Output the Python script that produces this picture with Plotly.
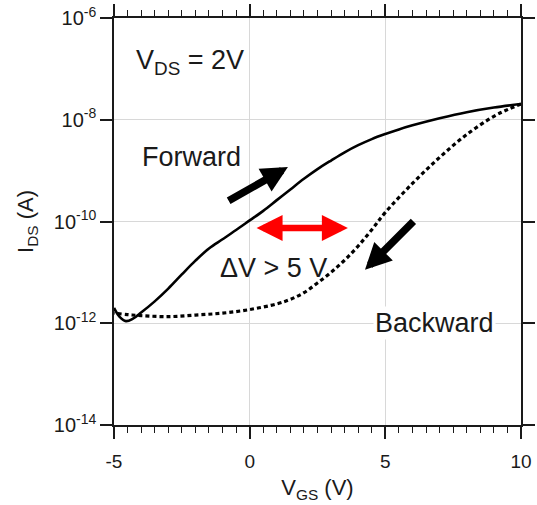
import plotly.graph_objects as go

# Transfer curve of the transistor, forward and backward gate sweeps
vgs_forward = [-5.0, -4.8, -4.56, -4.3, -4.0, -3.5, -3.0, -2.5, -2.0, -1.5, -1.0, -0.5,
               0.0, 0.5, 1.0, 1.5, 2.0, 2.5, 3.0, 3.5, 4.0, 4.5, 5.0, 5.5, 6.0, 7.0,
               8.0, 9.0, 10.0]
ids_forward = [2.0e-12, 1.35e-12, 1.10e-12, 1.23e-12, 1.62e-12, 2.69e-12, 4.79e-12, 9.1e-12,
               1.70e-11, 2.95e-11, 4.47e-11, 6.8e-11, 1.05e-10, 1.62e-10, 2.63e-10, 4.27e-10,
               6.9e-10, 1.07e-9, 1.58e-9, 2.29e-9, 3.16e-9, 4.17e-9, 5.25e-9, 6.46e-9,
               7.76e-9, 1.07e-8, 1.41e-8, 1.74e-8, 2.04e-8]

vgs_backward = [10.0, 9.5, 9.0, 8.0, 7.0, 6.0, 5.0, 4.5, 4.0, 3.5, 3.0, 2.5, 2.0, 1.5,
                1.0, 0.0, -1.0, -2.0, -3.0, -4.0, -4.5, -5.0]
ids_backward = [2.04e-8, 1.58e-8, 1.17e-8, 5.13e-9, 1.82e-9, 5.6e-10, 1.51e-10, 6.9e-11,
                3.3e-11, 1.74e-11, 1.0e-11, 6.2e-12, 3.98e-12, 2.95e-12, 2.40e-12,
                1.86e-12, 1.58e-12, 1.45e-12, 1.35e-12, 1.41e-12, 1.48e-12, 1.58e-12]

y_tick_exponents = [-14, -12, -10, -8, -6]
x_tick_values = [-5, 0, 5, 10]

FONT = "Arial, Liberation Sans, sans-serif"
INK = "#1a1a1a"
LABEL_SIZE = 27

fig = go.Figure()
fig.add_trace(go.Scatter(x=vgs_forward, y=ids_forward, mode="lines",
                         line=dict(color="black", width=2.6, shape="spline", smoothing=1.0),
                         showlegend=False))
fig.add_trace(go.Scatter(x=vgs_backward, y=ids_backward, mode="lines",
                         line=dict(color="black", width=3.2, dash="4px,3px",
                                   shape="spline", smoothing=1.0),
                         showlegend=False))

annotations = [
    dict(x=-2.2, y=-6.86, text="V<sub>DS</sub> = 2V", showarrow=False,
         font=dict(size=LABEL_SIZE, color=INK, family=FONT)),
    dict(x=-2.16, y=-8.73, text="Forward", showarrow=False,
         font=dict(size=LABEL_SIZE, color=INK, family=FONT)),
    dict(x=0.86, y=-10.91, text="ΔV > 5 V", showarrow=False,
         font=dict(size=LABEL_SIZE, color=INK, family=FONT)),
    dict(x=6.8, y=-11.99, text="Backward", showarrow=False, bgcolor="white",
         font=dict(size=LABEL_SIZE, color=INK, family=FONT)),
    # sweep direction arrows
    dict(x=1.41, y=-8.93, ax=-0.83, ay=-9.61, xref="x", yref="y", axref="x", ayref="y",
         text="", showarrow=True, arrowhead=2, arrowsize=0.7, arrowwidth=7.5, arrowcolor="black"),
    dict(x=4.25, y=-10.95, ax=6.09, ay=-9.97, xref="x", yref="y", axref="x", ayref="y",
         text="", showarrow=True, arrowhead=2, arrowsize=0.7, arrowwidth=7.5, arrowcolor="black"),
    # hysteresis width
    dict(x=3.62, y=-10.13, ax=0.2, ay=-10.13, xref="x", yref="y", axref="x", ayref="y",
         text="", showarrow=True, arrowhead=2, arrowside="end+start", arrowsize=0.8,
         arrowwidth=6.5, arrowcolor="#ff0000"),
]

fig.update_layout(
    width=537, height=505,
    margin=dict(l=114, r=16, t=18, b=80),
    paper_bgcolor="white", plot_bgcolor="white",
    font=dict(family=FONT, color=INK),
    annotations=annotations,
)

fig.update_xaxes(
    range=[-5, 10], tickvals=x_tick_values, ticktext=[str(v) for v in x_tick_values],
    ticks="outside", ticklen=12, tickwidth=1.5, tickcolor=INK, ticklabelstandoff=6,
    showline=True, linecolor=INK, linewidth=1.5, mirror="allticks", automargin=False,
    showgrid=True, gridcolor="#d8d8d8", gridwidth=1, zeroline=False,
    tickfont=dict(size=19, family=FONT, color=INK),
    minor=dict(dtick=0.5, ticks="outside", ticklen=6, tickwidth=1.2, tickcolor=INK, showgrid=False),
    title=dict(text="V<sub>GS</sub> (V)", font=dict(size=22, family=FONT, color=INK), standoff=9),
)
fig.update_yaxes(
    type="log", range=[-14, -6],
    tickvals=[10.0 ** e for e in y_tick_exponents],
    ticktext=["10<sup>%d</sup>" % e for e in y_tick_exponents],
    ticks="outside", ticklen=12, tickwidth=1.5, tickcolor=INK,
    showline=True, linecolor=INK, linewidth=1.5, mirror="allticks", automargin=False,
    showgrid=True, gridcolor="#d8d8d8", gridwidth=1, zeroline=False,
    tickfont=dict(size=20, family=FONT, color=INK),
    title=dict(text="I<sub>DS</sub> (A)", font=dict(size=22, family=FONT, color=INK), standoff=14),
)

fig.write_html("out.html")
